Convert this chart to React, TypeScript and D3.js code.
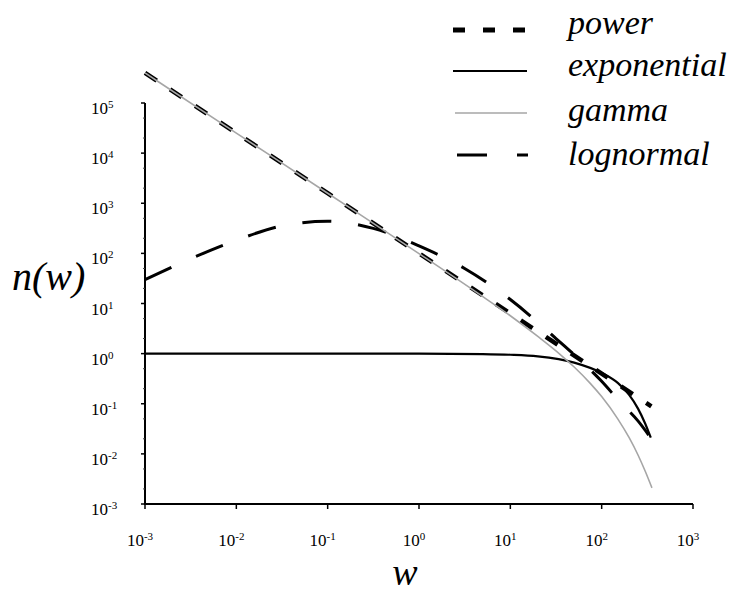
import React from "react";
import * as d3 from "d3";

// ---- data ----
const powerW = [0.001, 0.01, 0.1, 1, 10, 100, 350];
const powerN = [3.98e5, 2.51e4, 1585, 100, 6.3, 0.398, 0.089];

const expW = [0.001, 0.01, 0.1, 1, 5, 10, 20, 50, 100, 150, 200, 250, 300, 345];
const expN = [1, 1, 1, 1, 0.98, 0.95, 0.88, 0.66, 0.41, 0.26, 0.15, 0.08, 0.04, 0.021];

const gammaW = [0.001, 0.01, 0.1, 1, 5, 10, 20, 35, 50, 75, 100, 150, 200, 250, 300, 355];
const gammaN = [3.98e5, 2.51e4, 1585, 99, 13.7, 5.7, 2.2, 0.97, 0.54, 0.255, 0.139, 0.05, 0.021, 0.0095, 0.0045, 0.0021];

const lognormW = [0.001, 0.00316, 0.01, 0.0316, 0.1, 0.316, 1, 3.16, 10, 31.6, 100, 158, 251, 350];
const lognormN = [30, 78, 182, 355, 437, 316, 141, 50, 12, 2, 0.28, 0.11, 0.045, 0.02];

const xTickExps = [-3, -2, -1, 0, 1, 2, 3];
const yTickExps = [-3, -2, -1, 0, 1, 2, 3, 4, 5];
const legendNames = ["power", "exponential", "gamma", "lognormal"];

const SERIF = "'Liberation Serif', Tinos, 'Times New Roman', 'Noto Serif', 'DejaVu Serif', serif";

export default function App() {
  const x = d3.scaleLog().domain([1e-3, 1e3]).range([145, 693]);
  const y = d3.scaleLog().domain([1e-3, 1e5]).range([504, 103]);

  const mk = (ws: number[], ns: number[], curve: any) =>
    d3
      .line<number>()
      .x((_, i) => x(ws[i]))
      .y((_, i) => y(ns[i]))
      .curve(curve)(ns.map((_, i) => i)) as string;

  const powerPath = mk(powerW, powerN, d3.curveLinear);
  const expPath = mk(expW, expN, d3.curveMonotoneX);
  const gammaPath = mk(gammaW, gammaN, d3.curveMonotoneX);
  const lognPath = mk(lognormW, lognormN, d3.curveMonotoneX);

  const yMinor: number[] = [];
  for (let e = -3; e < 5; e++) {
    yMinor.push(2 * Math.pow(10, e), 5 * Math.pow(10, e));
  }

  const legendY = [30, 71, 113, 155];
  const legendBase = [34, 76, 121, 165];

  const txt = { fontFamily: SERIF };
  const itx = { fontFamily: SERIF, fontStyle: "italic" as const };

  return (
    <svg
      width={733}
      height={594}
      style={{ position: "absolute", left: 0, top: 0, background: "#fff" }}
    >
      <rect x={0} y={0} width={733} height={594} fill="#fff" />
      {/* axes */}
      <line x1={145} x2={145} y1={y(1e5)} y2={y(1e-3) + 1} stroke="#000" strokeWidth={2} />
      <line x1={144} x2={x(1e3)} y1={y(1e-3)} y2={y(1e-3)} stroke="#000" strokeWidth={2} />
      {yTickExps.map((e) => (
        <line key={"yt" + e} x1={141} x2={145} y1={y(Math.pow(10, e))} y2={y(Math.pow(10, e))} stroke="#000" strokeWidth={1.5} />
      ))}
      {yMinor.map((v, i) => (
        <line key={"ym" + i} x1={143} x2={145} y1={y(v)} y2={y(v)} stroke="#444" strokeWidth={1} />
      ))}
      {xTickExps.map((e) => (
        <line key={"xt" + e} x1={x(Math.pow(10, e))} x2={x(Math.pow(10, e))} y1={504} y2={509} stroke="#000" strokeWidth={1.5} />
      ))}
      {/* tick labels */}
      {yTickExps.map((e) => (
        <text key={"yl" + e} x={91} y={y(Math.pow(10, e)) + 11} fontSize={17} fill="#000" style={txt}>
          10
          <tspan fontSize={11} dy={-6}>{String(e)}</tspan>
        </text>
      ))}
      {xTickExps.map((e) => (
        <text key={"xl" + e} x={x(Math.pow(10, e)) - 5} y={546} fontSize={17} fill="#000" textAnchor="middle" style={txt}>
          10
          <tspan fontSize={11} dy={-6}>{String(e)}</tspan>
        </text>
      ))}
      {/* axis titles */}
      <text x={12} y={290} fontSize={40} fill="#000" style={itx}>n(w)</text>
      <text x={405} y={585} fontSize={38} fill="#000" textAnchor="middle" style={itx}>w</text>

      {/* curves */}
      <path d={powerPath} fill="none" stroke="#000" strokeWidth={4.5} strokeDasharray="14 16" />
      <path d={lognPath} fill="none" stroke="#000" strokeWidth={3} strokeDasharray="29 27" />
      <path d={expPath} fill="none" stroke="#000" strokeWidth={2.2} />
      <path d={gammaPath} fill="none" stroke="#a6a6a6" strokeWidth={1.6} />

      {/* legend */}
      <line x1={453} x2={527} y1={legendY[0]} y2={legendY[0]} stroke="#000" strokeWidth={5} strokeDasharray="12 18" />
      <line x1={453} x2={527} y1={legendY[1]} y2={legendY[1]} stroke="#000" strokeWidth={2.2} />
      <line x1={455} x2={527} y1={legendY[2]} y2={legendY[2]} stroke="#a6a6a6" strokeWidth={1.6} />
      <line x1={457} x2={528} y1={legendY[3]} y2={legendY[3]} stroke="#000" strokeWidth={3} strokeDasharray="30 30" />
      {legendNames.map((n, i) => (
        <text key={n} x={568} y={legendBase[i]} fontSize={34} fill="#000" style={itx}>
          {n}
        </text>
      ))}
    </svg>
  );
}
